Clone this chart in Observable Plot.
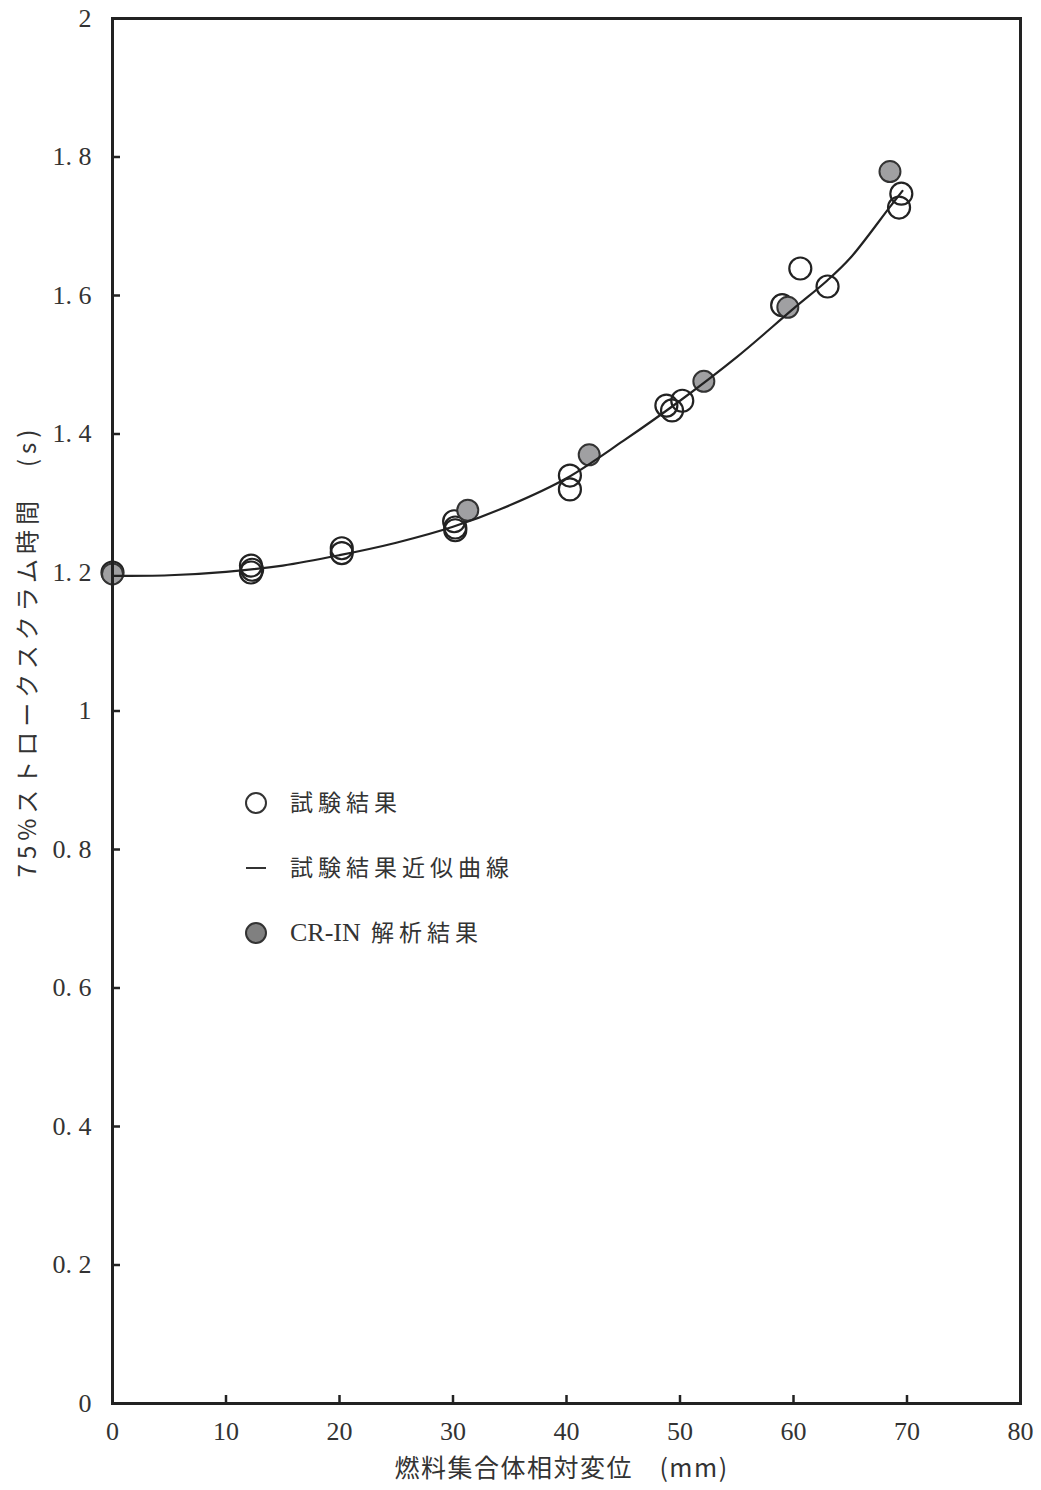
<!DOCTYPE html>
<html><head><meta charset="utf-8">
<script src="https://cdn.jsdelivr.net/npm/d3@7"></script>
<script src="https://cdn.jsdelivr.net/npm/@observablehq/plot@0.6"></script>
<style>
html,body{margin:0;padding:0;background:#fff;}
#wrap{position:relative;width:1041px;height:1490px;}
.leg{position:absolute;font-family:"Noto Sans CJK JP",sans-serif;font-size:23px;color:#333;letter-spacing:5px;line-height:1;font-weight:400;white-space:nowrap;}
.leg .lat{font-family:"Liberation Serif",serif;font-size:26px;letter-spacing:0;}
.sym{position:absolute;box-sizing:border-box;border-radius:50%;}
</style>
</head><body>
<div id="wrap"></div>
<script>
// Test results (open circles)
const testX = [0, 12.2, 12.3, 12.2, 20.2, 20.2, 30.1, 30.2, 30.2, 40.3, 40.3, 48.8, 49.3, 50.2, 59.0, 60.6, 63.0, 69.3, 69.5];
const testY = [1.200, 1.210, 1.204, 1.200, 1.235, 1.228, 1.274, 1.265, 1.261, 1.340, 1.320, 1.441, 1.434, 1.448, 1.586, 1.639, 1.613, 1.727, 1.747];
// CR-IN analysis results (grey circles)
const crinX = [0, 31.3, 42.0, 52.1, 59.5, 68.5];
const crinY = [1.198, 1.290, 1.370, 1.476, 1.583, 1.779];
// Approximate curve of test results
const fitX = [0, 5, 10, 15, 20, 25, 30, 35, 40, 45, 50, 55, 60, 63, 65, 68.5, 69.6];
const fitY = [1.195, 1.196, 1.201, 1.210, 1.225, 1.243, 1.266, 1.297, 1.336, 1.390, 1.448, 1.511, 1.581, 1.622, 1.654, 1.728, 1.751];
// Axis ticks
const xTicks = [0, 10, 20, 30, 40, 50, 60, 70, 80];
const yTicks = [0, 0.2, 0.4, 0.6, 0.8, 1, 1.2, 1.4, 1.6, 1.8, 2];
const xLabel = "燃料集合体相対変位　(mm)";
const yLabel = "75%ストロークスクラム時間　(s)";
const legendLabels = ["試験結果", "試験結果近似曲線", "CR-IN 解析結果"];

const test = testX.map((x, i) => ({x, y: testY[i]}));
const crin = crinX.map((x, i) => ({x, y: crinY[i]}));
const fit = fitX.map((x, i) => ({x, y: fitY[i]}));

const numFont = "'Liberation Serif', serif";
const jpFont = "'Noto Sans CJK JP', sans-serif";
const fmt = d => String(d).replace(".", ". ");

const chart = Plot.plot({
  width: 1041, height: 1490,
  marginLeft: 112, marginRight: 21, marginTop: 18, marginBottom: 87,
  style: {fontFamily: numFont, fontSize: "26px", color: "#333", background: "#fff"},
  x: {domain: [0, 80], ticks: xTicks},
  y: {domain: [0, 2], ticks: yTicks},
  marks: [
    Plot.axisX(xTicks, {tickSize: -8, strokeWidth: 2.5, stroke: "#222", tickPadding: 26, tickFormat: fmt, label: null, fontSize: 26, fill: "#333"}),
    Plot.axisY(yTicks, {tickSize: -8, strokeWidth: 2.5, stroke: "#222", tickPadding: 29, tickFormat: fmt, label: null, fontSize: 26, fill: "#333"}),
    Plot.dot(test, {x: "x", y: "y", r: 11, stroke: "#222", strokeWidth: 2.2, fill: "none"}),
    Plot.dot(crin, {x: "x", y: "y", r: 10.5, stroke: "#333", strokeWidth: 2, fill: "#a0a0a2"}),
    Plot.line(fit, {x: "x", y: "y", curve: "catmull-rom", stroke: "#222", strokeWidth: 2.2}),
    Plot.frame({stroke: "#222", strokeWidth: 3}),
    Plot.text([xLabel], {frameAnchor: "bottom", dy: 73, dx: -5, textAnchor: "middle", fontFamily: jpFont, fontSize: 25, fill: "#333", className: "xlab"}),
    Plot.text([yLabel], {frameAnchor: "left", dx: -84, dy: -60, textAnchor: "middle", rotate: -90, fontFamily: jpFont, fontSize: 24, fill: "#333", className: "ylab"})
  ]
});
chart.querySelectorAll(".ylab text").forEach(t => t.setAttribute("letter-spacing", "5"));
chart.querySelectorAll(".xlab text").forEach(t => t.setAttribute("letter-spacing", "1.5"));
const wrap = document.getElementById("wrap");
wrap.appendChild(chart);

// Legend overlay
function addSym(cx, cy, kind) {
  const d = document.createElement("div");
  if (kind === "line") {
    d.style.cssText = `position:absolute;left:${cx-10}px;top:${cy-1}px;width:20px;height:2px;background:#333;`;
  } else {
    d.className = "sym";
    d.style.cssText += `left:${cx-11}px;top:${cy-11}px;width:22px;height:22px;border:2px solid #333;background:${kind === "open" ? "#fff" : "#808080"};`;
  }
  wrap.appendChild(d);
}
function addText(x, cy, t) {
  const d = document.createElement("div");
  d.className = "leg";
  const m = t.match(/^([A-Za-z\-]+)\s(.*)$/);
  if (m) {
    const s = document.createElement("span");
    s.className = "lat"; s.textContent = m[1];
    d.appendChild(s);
    d.appendChild(document.createTextNode(" " + m[2]));
  } else d.textContent = t;
  d.style.left = x + "px";
  d.style.top = (cy - 13) + "px";
  wrap.appendChild(d);
}
const rows = [[803, "open"], [868, "line"], [933, "fill"]];
rows.forEach(([cy, k], i) => { addSym(256, cy, k); addText(290, cy, legendLabels[i]); });
</script>
</body></html>
